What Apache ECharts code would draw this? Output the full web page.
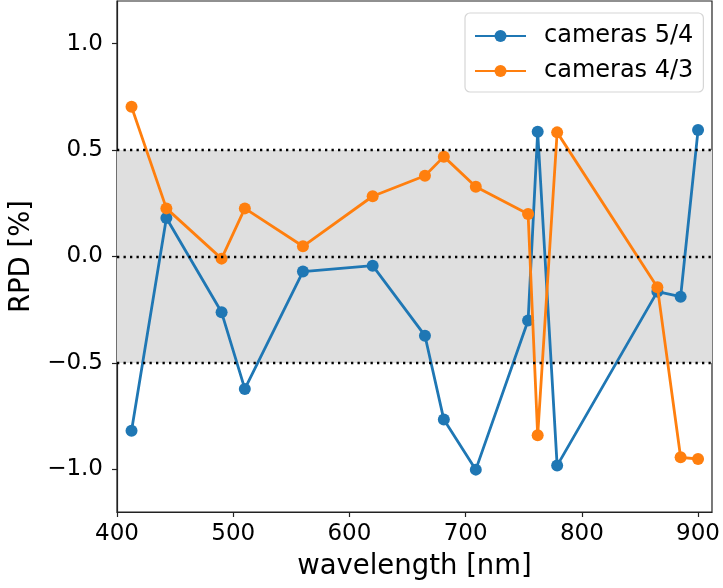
<!DOCTYPE html>
<html>
<head>
<meta charset="utf-8">
<script src="https://cdn.jsdelivr.net/npm/echarts@6/dist/echarts.min.js"></script>
<style>
  html, body { margin: 0; padding: 0; background: #fff; }
  #chart { width: 723px; height: 588px; }
</style>
</head>
<body>
<div id="chart"></div>
<script>
// Band wavelengths (nm)
const wavelengths = [412.5, 442.5, 490, 510, 560, 620, 665, 681.25, 708.75, 753.75, 762, 778.75, 865, 885, 900];
// Relative percent difference between camera pairs
const rpdCam54 = [-0.818, 0.181, -0.262, -0.622, -0.071, -0.043, -0.372, -0.766, -1.001, -0.301, 0.586, -0.982, -0.165, -0.189, 0.594];
const rpdCam43 = [0.703, 0.226, -0.010, 0.226, 0.048, 0.283, 0.379, 0.469, 0.328, 0.200, -0.840, 0.583, -0.144, -0.943, -0.951];
const seriesNames = ['cameras 5/4', 'cameras 4/3'];

// Axis ticks
const xTicks = [400, 500, 600, 700, 800, 900];
const yTicks = [-1.0, -0.5, 0.0, 0.5, 1.0];
const yTickLabels = ['\u22121.0', '\u22120.5', '0.0', '0.5', '1.0'];

// Tolerance band and reference lines
const bandRange = [-0.5, 0.5];
const refLines = [-0.5, 0.0, 0.5];

const FONT = 'DejaVu Sans';
const BLUE = '#1f77b4';
const ORANGE = '#ff7f0e';

const pairs = (xs, ys) => xs.map((x, i) => [x, ys[i]]);

const chart = echarts.init(document.getElementById('chart'), null, { renderer: 'canvas' });

const lineSeries = (name, ys, color, z) => ({
  name: name,
  type: 'line',
  data: pairs(wavelengths, ys),
  symbol: 'circle',
  symbolSize: 12,
  showSymbol: true,
  z: z,
  animation: false,
  lineStyle: { color: color, width: 2.8 },
  itemStyle: { color: color },
  emphasis: { disabled: true }
});

chart.setOption({
  animation: false,
  backgroundColor: '#ffffff',
  grid: {
    left: 117, right: 8, top: 1, bottom: 76,
    show: true, borderColor: '#222', borderWidth: 1.2, backgroundColor: 'transparent'
  },
  legend: {
    data: seriesNames,
    orient: 'vertical',
    left: 465, top: 13,
    padding: [11, 10, 9, 9],
    itemGap: 11,
    itemWidth: 51,
    itemHeight: 15,
    backgroundColor: 'rgba(255,255,255,0.85)',
    borderColor: '#d6d6d6',
    borderWidth: 1.2,
    borderRadius: 5,
    textStyle: { fontFamily: FONT, fontSize: 24, color: '#000', padding: [0, 0, 0, 13] }
  },
  xAxis: {
    type: 'value',
    min: 400, max: 912,
    name: 'wavelength [nm]',
    nameLocation: 'middle',
    nameGap: 41,
    nameTextStyle: { fontFamily: FONT, fontSize: 27.5, color: '#000' },
    axisLine: { show: true, onZero: false, lineStyle: { color: '#222', width: 1.2 } },
    axisTick: { show: true, length: 5, customValues: xTicks, lineStyle: { color: '#222', width: 1.2 } },
    axisLabel: { customValues: xTicks, margin: 11, fontFamily: FONT, fontSize: 23, color: '#000' },
    splitLine: { show: false }
  },
  yAxis: {
    type: 'value',
    min: -1.2, max: 1.2,
    name: 'RPD [%]',
    nameLocation: 'middle',
    nameGap: 78,
    nameTextStyle: { fontFamily: FONT, fontSize: 27.5, color: '#000' },
    axisLine: { show: true, onZero: false, lineStyle: { color: '#222', width: 1.2 } },
    axisTick: { show: true, length: 5, customValues: yTicks, lineStyle: { color: '#222', width: 1.2 } },
    axisLabel: {
      customValues: yTicks, margin: 14, fontFamily: FONT, fontSize: 23, color: '#000',
      formatter: v => {
        const i = yTicks.findIndex(t => Math.abs(t - v) < 1e-9);
        return i >= 0 ? yTickLabels[i] : '';
      }
    },
    splitLine: { show: false }
  },
  series: [
    {
      // shaded band and dotted reference lines, drawn underneath the data
      type: 'line',
      data: [],
      silent: true,
      z: 1,
      markArea: {
        silent: true,
        itemStyle: { color: '#dfdfdf' },
        data: [[{ yAxis: bandRange[0] }, { yAxis: bandRange[1] }]]
      },
      markLine: {
        silent: true,
        symbol: ['none', 'none'],
        label: { show: false },
        lineStyle: { color: '#000', width: 2.3, type: [2.3, 4.2] },
        data: refLines.map(v => ({ yAxis: v }))
      }
    },
    lineSeries(seriesNames[0], rpdCam54, BLUE, 3),
    lineSeries(seriesNames[1], rpdCam43, ORANGE, 4)
  ]
});
</script>
</body>
</html>
